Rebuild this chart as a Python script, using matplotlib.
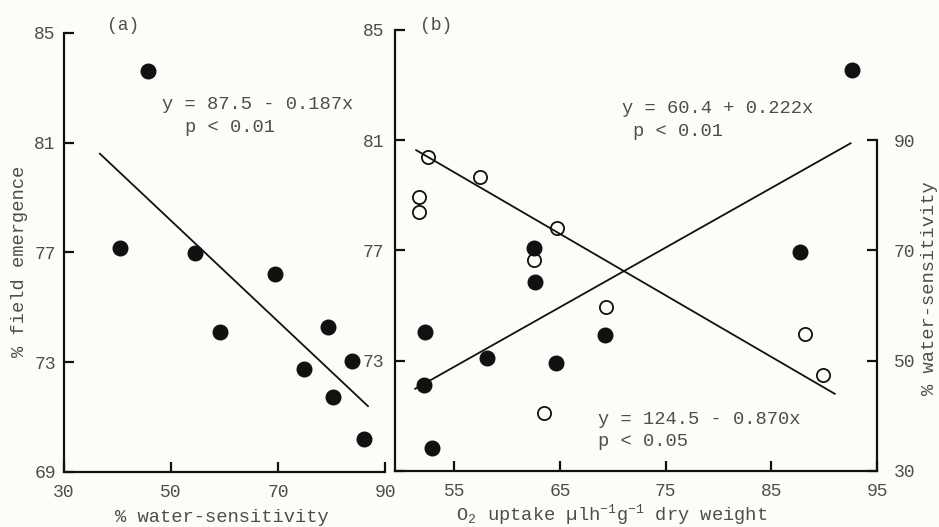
import matplotlib
import matplotlib.pyplot as plt

matplotlib.use("Agg")

plt.rcParams["font.family"] = ["Liberation Mono", "DejaVu Sans Mono"]
plt.rcParams["mathtext.fontset"] = "custom"
plt.rcParams["mathtext.rm"] = "Liberation Mono"
plt.rcParams["mathtext.it"] = "Liberation Mono"

# panel (a): field emergence vs water-sensitivity
a_water = [45.7, 40.5, 54.5, 69.4, 59.1, 79.3, 74.8, 83.9, 80.2, 86.0]
a_emergence = [83.6, 77.16, 76.98, 76.2, 74.1, 74.3, 72.77, 73.06, 71.75, 70.2]
a_fit_x = [36.7, 86.8]
a_fit_y = [80.6, 71.4]

# panel (b): filled = field emergence (left axis), open = water-sensitivity (right axis)
b_o2_filled = [92.66, 62.5, 87.7, 62.6, 52.2, 69.3, 58.1, 64.6, 52.1, 52.9]
b_emergence = [83.56, 77.10, 76.96, 75.84, 74.04, 73.93, 73.10, 72.92, 72.13, 69.82]
b_o2_open = [52.5, 57.4, 51.7, 51.7, 64.7, 62.5, 69.4, 88.2, 89.9, 63.5]
b_water = [86.9, 83.3, 79.7, 77.0, 74.1, 68.2, 59.7, 54.8, 47.4, 40.6]
b_fit_em_x = [51.3, 92.5]
b_fit_em_y = [71.98, 80.89]
b_fit_ws_x = [51.4, 91.0]
b_fit_ws_y = [88.2, 44.0]

emergence_ticks = [69, 73, 77, 81, 85]
a_xticks = [30, 50, 70, 90]
b_xticks = [55, 65, 75, 85, 95]
water_ticks = [30, 50, 70, 90]

TEXT = "#4d4d4d"
INK = "#111111"
BG = "#fcfcf9"


def style_axis(ax, sides):
    for side in ["top", "right", "left", "bottom"]:
        ax.spines[side].set_visible(side in sides)
        ax.spines[side].set_linewidth(1.6)
        ax.spines[side].set_color(INK)
    ax.patch.set_visible(False)
    ax.tick_params(direction="in", length=7, width=1.6, colors=INK,
                   labelcolor=TEXT, labelsize=13)
    ax.tick_params(axis="x", pad=9)
    ax.tick_params(axis="y", pad=6)


def create_plot():
    fig = plt.figure(figsize=(9.39, 5.27), dpi=100, facecolor=BG)

    # ----- panel (a)
    ax = fig.add_axes([0.0682, 0.1044, 0.3419, 0.833])
    style_axis(ax, ["left", "bottom"])
    ax.plot(a_water, a_emergence, "o", color=INK, markersize=10.5, zorder=3)
    ax.plot(a_fit_x, a_fit_y, "-", color=INK, lw=1.3)
    ax.set_xlim(30, 90)
    ax.set_ylim(69, 85)
    ax.set_xticks(a_xticks)
    ax.set_yticks(emergence_ticks)
    ax.text(0.134, 1.018, "(a)", transform=ax.transAxes, fontsize=13,
            color=TEXT, va="center")
    ax.text(0.305, 0.836, "y = 87.5 - 0.187x", transform=ax.transAxes,
            fontsize=13.5, color=TEXT, va="center")
    ax.text(0.377, 0.784, "p < 0.01", transform=ax.transAxes,
            fontsize=13.5, color=TEXT, va="center")

    # ----- panel (b)
    bx = fig.add_axes([0.4207, 0.1063, 0.5133, 0.8368])
    style_axis(bx, ["left", "bottom"])
    bx.tick_params(axis="y", pad=8)
    bx.plot(b_o2_filled, b_emergence, "o", color=INK, markersize=10.5, zorder=3)
    bx.plot(b_fit_em_x, b_fit_em_y, "-", color=INK, lw=1.3)
    bx.set_xlim(49.4, 95)
    bx.set_ylim(69, 85)
    bx.set_xticks(b_xticks)
    bx.set_yticks(emergence_ticks)
    # the bottom label of panel (b) is left out in the original
    bx.set_yticklabels(["" if t == 69 else str(t) for t in emergence_ticks])

    rx = bx.twinx()
    style_axis(rx, ["right"])
    rx.tick_params(axis="y", pad=12)
    rx.spines["right"].set_bounds(30, 90)
    rx.plot(b_o2_open, b_water, "o", mfc="none", mec=INK, mew=1.3,
            markersize=9.5, zorder=3)
    rx.plot(b_fit_ws_x, b_fit_ws_y, "-", color=INK, lw=1.3)
    rx.set_ylim(30, 110)
    rx.set_yticks(water_ticks)

    bx.text(0.052, 1.011, "(b)", transform=bx.transAxes, fontsize=13,
            color=TEXT, va="center")
    bx.text(0.471, 0.823, "y = 60.4 + 0.222x", transform=bx.transAxes,
            fontsize=13.5, color=TEXT, va="center")
    bx.text(0.494, 0.769, "p < 0.01", transform=bx.transAxes,
            fontsize=13.5, color=TEXT, va="center")
    bx.text(0.421, 0.116, "y = 124.5 - 0.870x", transform=bx.transAxes,
            fontsize=13.5, color=TEXT, va="center")
    bx.text(0.421, 0.066, "p < 0.05", transform=bx.transAxes,
            fontsize=13.5, color=TEXT, va="center")

    # axis titles
    fig.text(20 / 939, 1 - 261 / 527, "% field emergence", rotation=90,
             ha="center", va="center", fontsize=13.5, color=TEXT)
    fig.text(929 / 939, 1 - 288 / 527, "% water-sensitivity", rotation=90,
             ha="center", va="center", fontsize=13.5, color=TEXT)
    fig.text(222 / 939, 1 - 517 / 527, "% water-sensitivity",
             ha="center", va="center", fontsize=13.5, color=TEXT)
    fig.text(612 / 939, 1 - 515 / 527,
             "O$_2$ uptake µlh$^{-1}$g$^{-1}$ dry weight",
             ha="center", va="center", fontsize=13.5, color=TEXT)

    fig.savefig("out.png", dpi=100, facecolor=BG)


def main():
    create_plot()


if __name__ == "__main__":
    main()
